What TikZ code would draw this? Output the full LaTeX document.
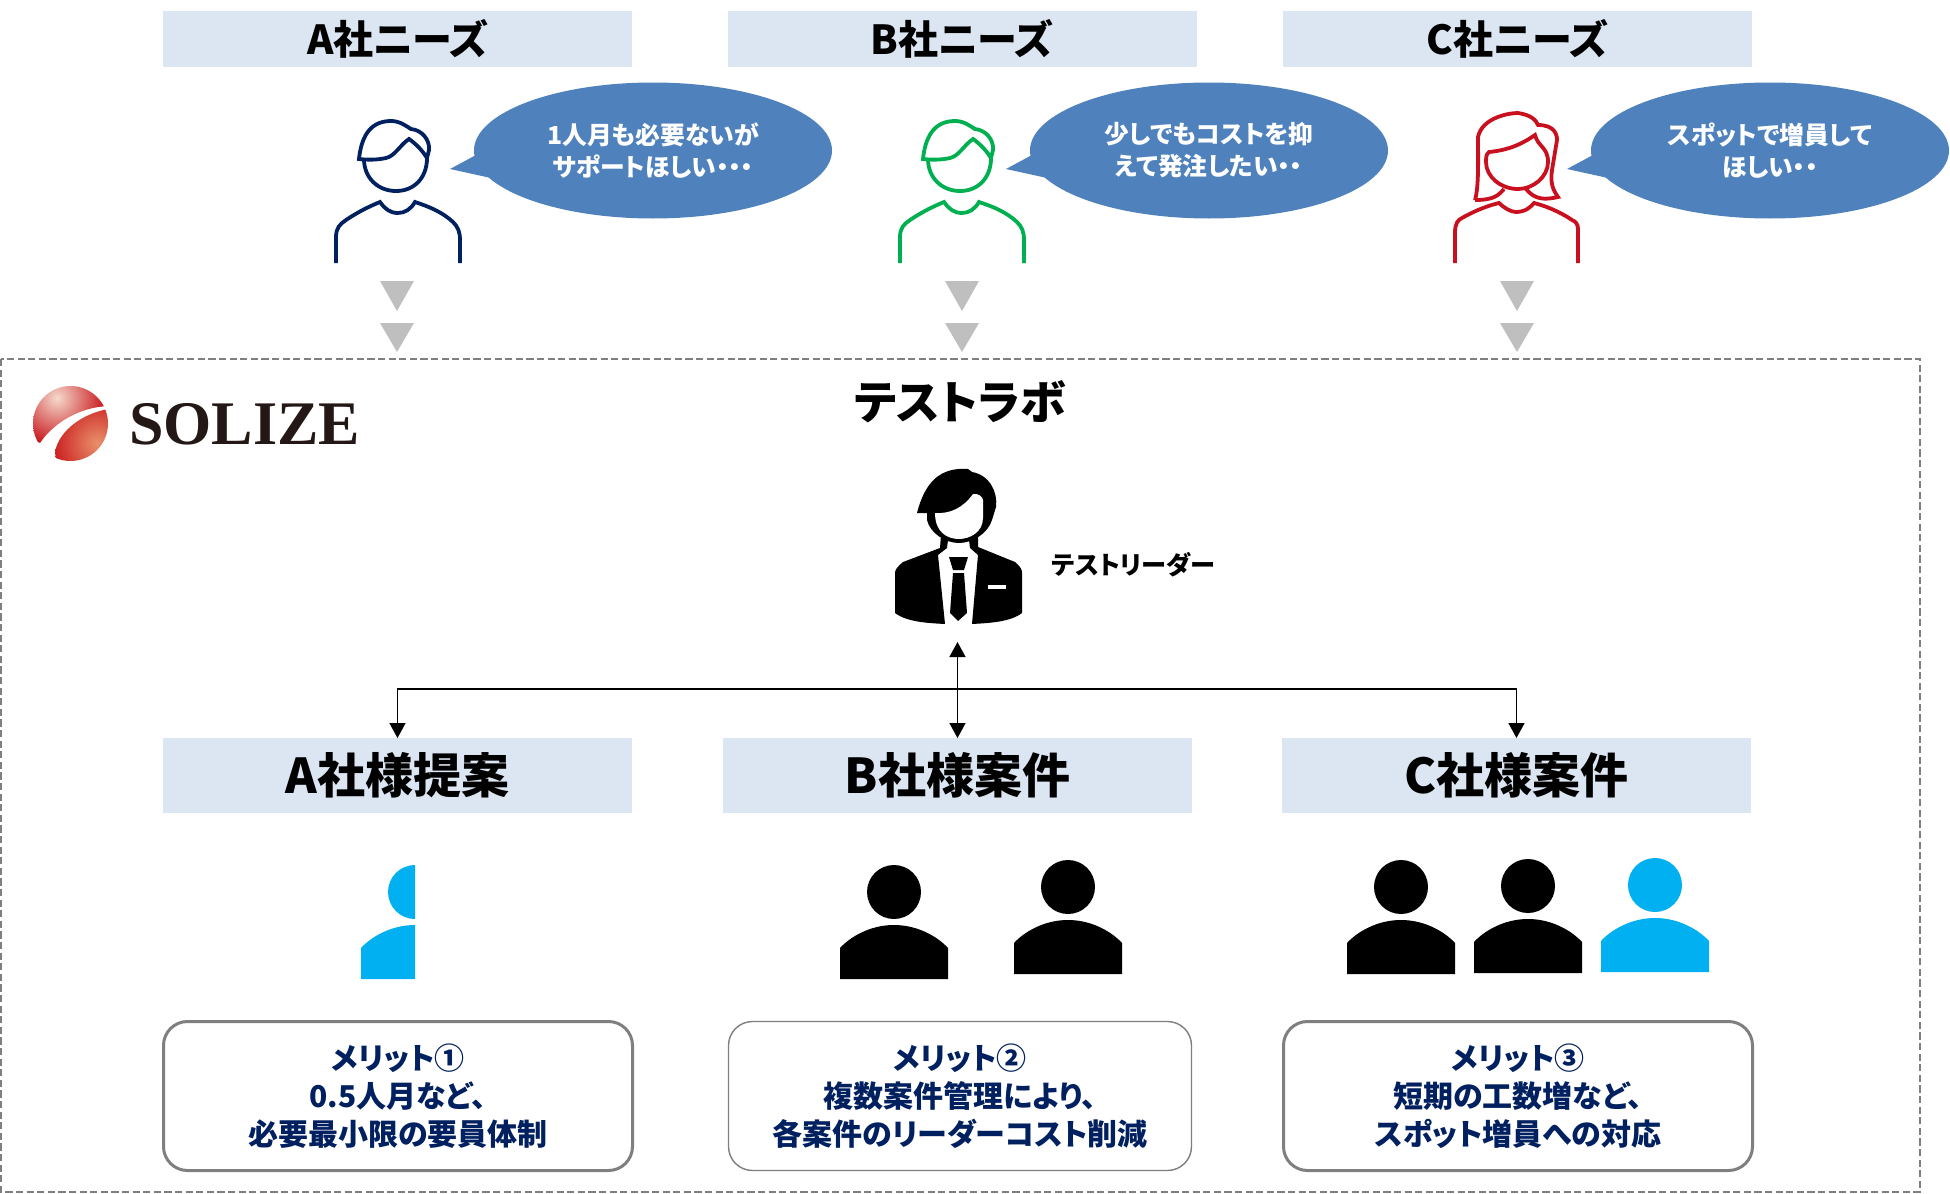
\documentclass[tikz,border=0pt]{standalone}
\usepackage{fontspec}
\setmainfont{Noto Sans CJK JP}[RawFeature=+palt]
\newfontfamily\logofont{Liberation Serif}
\usetikzlibrary{arrows.meta,shapes.geometric}
\definecolor{needfill}{HTML}{DCE6F2}
\definecolor{saybubble}{HTML}{4F81BD}
\definecolor{navy}{HTML}{002060}
\definecolor{signgreen}{HTML}{00B050}
\definecolor{signred}{HTML}{C8101E}
\definecolor{sky}{HTML}{00B0F0}
\definecolor{hair}{HTML}{7F7F7F}
\definecolor{dropgray}{HTML}{BFBFBF}
\definecolor{logored}{HTML}{C8141A}
\definecolor{logoglow}{HTML}{F5D9CC}
\definecolor{logoglowb}{HTML}{E8906A}
\definecolor{logoink}{HTML}{231815}
\tikzset{
  every node/.style={inner sep=0pt, outer sep=0pt},
  needbar/.style={fill=needfill, minimum width=234.5pt, minimum height=28pt, font=\bfseries\fontsize{20}{24}\selectfont},
  casebar/.style={fill=needfill, minimum width=234.5pt, minimum height=37.5pt, font=\bfseries\fontsize{24}{28}\selectfont},
  saying/.style={ellipse, fill=saybubble, minimum width=179pt, minimum height=68pt, align=center, text=white, font=\bfseries\fontsize{12.4}{16}\selectfont},
  merit/.style={draw=hair, fill=white, rounded corners=12pt, minimum width=234.5pt, minimum height=74.5pt, align=center, text=navy, font=\bfseries\fontsize{15}{19}\selectfont},
  link/.style={line width=0.75pt, draw=black},
  outline/.style={line width=1.9pt, fill=none},
  member/.pic={
    \path[pic actions] (0,-87) circle (27);
    \path[pic actions] (-54,0) -- (-54,-31) .. controls (-44,-42) and (-24,-54) .. (0,-54) .. controls (24,-54) and (44,-42) .. (54,-31) -- (54,0) -- cycle;
  },
}
\begin{document}
\begin{tikzpicture}[x=0.5pt,y=-0.5pt]
  \useasboundingbox (0,0) rectangle (1950,1194);

  % customer needs
  \node[needbar] (needA) at (397.5,39) {A社ニーズ};
  \node[needbar] (needB) at (962,39) {B社ニーズ};
  \node[needbar] (needC) at (1517.5,39) {C社ニーズ};

  % speech bubbles
  \foreach \n/\dx/\t in {A/0/{1人月も必要ないが\\サポートほしい・・・}, B/556/{少しでもコストを抑\\えて発注したい・・}, C/1117/{スポットで増員して\\ほしい・・}} {
    \begin{scope}[shift={(\dx,0)}]
      \fill[saybubble] (450,169) -- (476,155) -- (491,178) -- cycle;
      \node[saying] (say\n) at (653,150.5) {\t};
    \end{scope}
  }

  % men
  \foreach \c/\dx in {navy/0, signgreen/564} {
    \begin{scope}[shift={(\dx,0)}, draw=\c]
      \draw[outline] (364,159) .. controls (364,178) and (378,191) .. (396,191) .. controls (414,191) and (427,178) .. (427,158);
      \draw[outline] (359,159) .. controls (361,140) and (368,121) .. (391,121) .. controls (400,121) and (406,126) .. (411,129) .. controls (422,130) and (430,140) .. (429,150) -- (427,158) .. controls (422,150) and (416,144) .. (409,139) .. controls (400,145) and (395,156) .. (386,158) .. controls (377,160) and (368,160) .. (359,159) -- cycle;
      \draw[outline] (336,263) -- (336,237) .. controls (336,228) and (340,224) .. (346,220) .. controls (358,212) and (368,207) .. (380,202) .. controls (385,209) and (390,213) .. (398,213) .. controls (405,213) and (411,209) .. (415,202) .. controls (430,207) and (442,212) .. (453,222) .. controls (458,227) and (460,232) .. (460,240) -- (460,263);
    \end{scope}
  }

  % woman
  \begin{scope}[draw=signred]
    \draw[outline] (1475,200) .. controls (1479,187) and (1478,157) .. (1478,137) .. controls (1482,118) and (1508,113) .. (1518,113) .. controls (1531,115) and (1536,120) .. (1538,125) .. controls (1555,125) and (1557,135) .. (1557,140) -- (1552,170) .. controls (1550,183) and (1553,190) .. (1558,197) .. controls (1545,200) and (1535,200) .. (1526,189);
    \draw[outline] (1475,200) .. controls (1493,200) and (1498,196) .. (1504,189);
    \draw[outline] (1489,152) .. controls (1511,150) and (1525,142) .. (1535,135) .. controls (1538,147) and (1548,147) .. (1548,162) .. controls (1548,177) and (1533,189) .. (1518,189) .. controls (1501,189) and (1486,177) .. (1486,162) .. controls (1486,155) and (1487,153) .. (1489,152) -- cycle;
    \draw[outline] (1455,263) -- (1455,233) .. controls (1455,223) and (1458,220) .. (1462,218) .. controls (1476,210) and (1490,205) .. (1499,203) .. controls (1504,208) and (1511,212) .. (1516,212) .. controls (1525,212) and (1531,207) .. (1534,203) .. controls (1550,207) and (1565,215) .. (1572,220) .. controls (1579,223) and (1578,228) .. (1578,233) -- (1578,263);
  \end{scope}

  % drop marks
  \foreach \x in {397,962,1517} {
    \fill[dropgray] (\x-17,281) -- (\x+17,281) -- (\x,311) -- cycle;
    \fill[dropgray] (\x-17,323) -- (\x+17,323) -- (\x,352) -- cycle;
  }

  % lab frame
  \draw[hair, line width=1.3pt, dash pattern=on 3.6pt off 1.7pt] (1,359) rectangle (1920,1192);

  % logo
  \begin{scope}
    \clip (70.5,423.5) circle (37.5);
    \begin{scope}
      \clip (40,443) .. controls (50,428) and (73,408) .. (108,406) -- (120,380) -- (20,380) -- (20,450) -- cycle;
      \shade[inner color=logoglow, outer color=logored] (57,398) circle (48);
    \end{scope}
    \begin{scope}
      \clip (108,409) .. controls (77,415) and (57,435) .. (55,453) -- (60,480) -- (120,480) -- cycle;
      \shade[inner color=logoglowb, outer color=logored] (97,443) circle (48);
    \end{scope}
  \end{scope}
  \node[font=\logofont\bfseries\fontsize{31}{36}\selectfont, text=logoink, anchor=west] (logo) at (129,424) {SOLIZE};

  % lab title, leader
  \node[font=\bfseries\fontsize{23}{28}\selectfont] (lab) at (960,402) {テストラボ};
  \node[font=\bfseries\fontsize{12.6}{16}\selectfont, anchor=west] (leadername) at (1052,565) {テストリーダー};

  \fill (917,513) .. controls (925,482) and (940,467) .. (968,469) -- (972,472) .. controls (990,475) and (998,493) .. (996,507) -- (992,520) .. controls (988,533) and (973,543) .. (959,543) .. controls (945,543) and (930,533) .. (927,520) -- (927,513) -- cycle;
  \fill[white] (935,513) .. controls (950,514) and (963,508) .. (973,494) .. controls (978,493) and (983,497) .. (983,500) -- (983,518) .. controls (983,532) and (970,539) .. (959,539) .. controls (947,539) and (935,532) .. (935,513) -- cycle;
  \fill (941,535) -- (940,548) -- (903,562) .. controls (897,567) and (895,570) .. (895,573) -- (895,613) .. controls (907,622) and (927,623) .. (945,624) -- (938,555) -- (947,548) -- (948,540) -- cycle;
  \fill (972,624) -- (978,555) -- (970,548) -- (969,540) -- (978,535) -- (978,547) -- (1015,562) .. controls (1021,567) and (1022,570) .. (1022,573) -- (1022,613) .. controls (1010,622) and (990,623) .. (972,624) -- cycle;
  \fill (949,557) -- (968,557) -- (964,570) -- (953,570) -- cycle;
  \fill (953,573) -- (964,573) -- (967,613) -- (958,621) -- (950,613) -- cycle;
  \fill[white] (988,585) rectangle (1006,589);

  % case bars
  \node[casebar] (caseA) at (397.5,775.5) {A社様提案};
  \node[casebar] (caseB) at (957.5,775.5) {B社様案件};
  \node[casebar] (caseC) at (1516.5,775.5) {C社様案件};

  % leader links
  \coordinate (leader) at (957.5,642);
  \coordinate (hub) at (957.5,689);
  \draw[link, {Triangle[length=7.5pt,width=8pt]}-{Triangle[length=7.5pt,width=8pt]}] (leader) -- (caseB.north);
  \draw[link, -{Triangle[length=7.5pt,width=8pt]}] (hub) -| (caseA.north);
  \draw[link, -{Triangle[length=7.5pt,width=8pt]}] (hub) -| (caseC.north);

  % staff
  \begin{scope}
    \clip (300,840) rectangle (415,990);
    \pic[fill=sky] at (415,979) {member};
  \end{scope}
  \foreach \x/\y/\c in {894/979/black, 1068/974/black, 1401/974/black, 1528/973/black, 1655/972/sky} {
    \pic[fill=\c] at (\x,\y) {member};
  }

  % merits
  \node[merit, line width=1.5pt] (meritA) at (398,1096) {メリット①\\0.5人月など、\\必要最小限の要員体制};
  \node[merit, line width=0.7pt, minimum width=231.5pt] (meritB) at (960,1096) {メリット②\\複数案件管理により、\\各案件のリーダーコスト削減};
  \node[merit, line width=1.5pt] (meritC) at (1518,1096) {メリット③\\短期の工数増など、\\スポット増員への対応};
\end{tikzpicture}
\end{document}
